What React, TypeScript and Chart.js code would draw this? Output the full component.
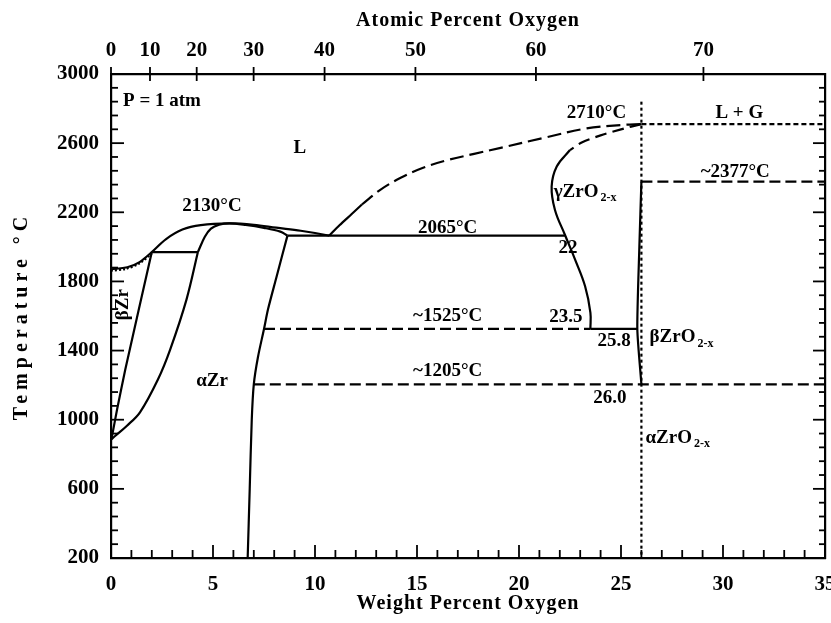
import React, { useEffect, useRef } from "react";
import { Chart, registerables } from "chart.js";

Chart.register(...registerables);

// ---- tick labels ----
const weightTicks = [0, 5, 10, 15, 20, 25, 30, 35];
const atomicTicks = [0, 10, 20, 30, 40, 50, 60, 70];
const tempTicks = [200, 600, 1000, 1400, 1800, 2200, 2600, 3000];

// ---- phase boundaries: [wt% O, °C] ----
const liquidusMetal = [[0, 1870], [0.8, 1882], [1.4, 1912], [2.0, 1970], [2.7, 2045], [3.5, 2100], [4.4, 2126], [5.8, 2136], [7.0, 2128], [8.1, 2111], [9.3, 2093], [10.0, 2080], [10.7, 2065]];
const betaSolidus = [[0, 1862], [0.7, 1872], [1.4, 1905], [2.0, 1962]];
const peritectic = [[2.0, 1970], [4.26, 1970]];
const betaTransus = [[2.0, 1970], [0.7, 1290], [0.3, 1060], [0.06, 912], [0, 885]];
const alphaTransus = [[4.26, 1970], [3.7, 1695], [2.9, 1406], [2.3, 1233], [1.42, 1043], [0.77, 964], [0.2, 906], [0, 885]];
const alphaSolidus = [[4.26, 1970], [4.6, 2058], [4.9, 2105], [5.3, 2128], [5.8, 2136], [6.6, 2127], [7.5, 2110], [8.3, 2088], [8.65, 2065]];
const alphaSolvus = [[8.65, 2065], [8.1, 1820], [7.7, 1640], [7.5, 1525], [7.2, 1360], [7.0, 1205], [6.9, 1000], [6.8, 600], [6.7, 200]];
const eutectic = [[8.65, 2065], [22.25, 2065]];
const oxideLiquidusSolid = [[10.7, 2065], [11.2, 2125], [11.8, 2190], [12.3, 2245]];
const oxideLiquidusDashed = [[12.3, 2245], [13.2, 2330], [14.2, 2400], [15.3, 2458], [16.5, 2502], [17.8, 2538], [19.1, 2573], [21.2, 2630], [23.3, 2685], [25.0, 2705], [26.0, 2710]];
const gammaSolidusDashed = [[26.0, 2710], [25.0, 2680], [24.0, 2645], [23.1, 2605], [22.5, 2560]];
const gammaBoundary = [[22.5, 2560], [21.85, 2465], [21.6, 2349], [21.76, 2215], [22.25, 2070], [22.75, 1926], [23.24, 1772], [23.5, 1620], [23.5, 1525]];
const eutectoidDashed = [[7.5, 1525], [23.5, 1525]];
const eutectoidSolid = [[23.5, 1525], [25.8, 1525]];
const oxideBoundary = [[26.0, 2377], [25.9, 2000], [25.8, 1525], [26.0, 1205]];
const monoclinicLine = [[7.0, 1205], [35, 1205]];
const tetragonalLine = [[26.0, 2377], [35, 2377]];
const meltLine = [[26.0, 2710], [35, 2710]];
const stoichLine = [[26.0, 2840], [26.0, 200]];

// ---- text annotations ----
const notes = [
  { t: "P = 1 atm", x: 0.59, y: 2844, align: "left" },
  { t: "L", x: 9.26, y: 2573, align: "center" },
  { t: "2710°C", x: 23.8, y: 2775, align: "center" },
  { t: "L + G", x: 30.8, y: 2775, align: "center" },
  { t: "~2377°C", x: 30.6, y: 2434, align: "center" },
  { t: "γZrO", sub: "2-x", x: 21.7, y: 2319, align: "left" },
  { t: "2130°C", x: 4.95, y: 2238, align: "center" },
  { t: "2065°C", x: 16.5, y: 2111, align: "center" },
  { t: "22", x: 22.4, y: 1995, align: "center" },
  { t: "~1525°C", x: 16.5, y: 1597, align: "center" },
  { t: "23.5", x: 22.3, y: 1591, align: "center" },
  { t: "25.8", x: 24.66, y: 1453, align: "center" },
  { t: "βZrO", sub: "2-x", x: 26.4, y: 1476, align: "left" },
  { t: "~1205°C", x: 16.5, y: 1279, align: "center" },
  { t: "26.0", x: 24.46, y: 1124, align: "center" },
  { t: "αZrO", sub: "2-x", x: 26.2, y: 893, align: "left" },
  { t: "αZr", x: 4.95, y: 1222, align: "center" },
  { t: "βZr", x: 0.6, y: 1666, align: "center", rot: true },
];

const FONT = "'Liberation Serif', 'Times New Roman', serif";

function atomicToWeight(at: number) {
  const a = at / 100;
  return (100 * a * 16) / (a * 16 + (1 - a) * 91.22);
}

function mk(data: number[][], dash: number[] = [], tension = 0) {
  return {
    data: data.map(([x, y]) => ({ x, y })),
    borderColor: "#000",
    borderWidth: 2.2,
    pointRadius: 0,
    showLine: true,
    fill: false,
    tension,
    borderDash: dash,
  };
}

const inTicks = {
  id: "inTicks",
  afterDraw(chart: any) {
    const { ctx, chartArea: a, scales } = chart;
    ctx.save();
    ctx.strokeStyle = "#000";
    ctx.lineWidth = 1.8;
    const seg = (x1: number, y1: number, x2: number, y2: number) => {
      ctx.beginPath();
      ctx.moveTo(x1, y1);
      ctx.lineTo(x2, y2);
      ctx.stroke();
    };
    for (let v = 0; v <= 35; v += 1) {
      const px = scales.x.getPixelForValue(v);
      seg(px, a.bottom, px, a.bottom - (v % 5 === 0 ? 13 : 8));
    }
    for (let v = 200; v <= 3000; v += 80) {
      const py = scales.y.getPixelForValue(v);
      const major = (v - 200) % 400 === 0;
      seg(a.left, py, a.left + (major ? 13 : 7), py);
      seg(a.right, py, a.right - (major ? 12 : 6), py);
    }
    atomicTicks.forEach((at) => {
      const px = scales.x.getPixelForValue(atomicToWeight(at));
      seg(px, a.top - 7, px, a.top + 7);
    });
    ctx.restore();
  },
};

const textPlugin = {
  id: "texts",
  afterDraw(chart: any) {
    const { ctx, chartArea: a, scales } = chart;
    ctx.save();
    ctx.fillStyle = "#000";
    ctx.textBaseline = "middle";
    notes.forEach((n: any) => {
      const px = scales.x.getPixelForValue(n.x);
      const py = scales.y.getPixelForValue(n.y);
      ctx.font = `bold 19px ${FONT}`;
      if (n.rot) {
        ctx.save();
        ctx.translate(px, py);
        ctx.rotate(-Math.PI / 2);
        ctx.textAlign = "center";
        ctx.fillText(n.t, 0, 0);
        ctx.restore();
        return;
      }
      ctx.textAlign = n.align;
      ctx.fillText(n.t, px, py);
      if (n.sub) {
        const w = ctx.measureText(n.t).width;
        ctx.font = `bold 12px ${FONT}`;
        ctx.textAlign = "left";
        ctx.fillText(n.sub, px + w + 2, py + 6);
      }
    });
    // axis titles
    ctx.font = `bold 20px ${FONT}`;
    (ctx as any).letterSpacing = "1px";
    ctx.textAlign = "center";
    const cx = (a.left + a.right) / 2;
    ctx.fillText("Atomic Percent Oxygen", cx, 21);
    ctx.fillText("Weight Percent Oxygen", cx, 604);
    ctx.save();
    ctx.translate(22, (a.top + a.bottom) / 2);
    ctx.rotate(-Math.PI / 2);
    (ctx as any).letterSpacing = "5px";
    ctx.fillText("Temperature °C", 0, 0);
    ctx.restore();
    ctx.restore();
  },
};

function noPad(s: any) {
  s.paddingLeft = 0;
  s.paddingRight = 0;
  s.paddingTop = 0;
  s.paddingBottom = 0;
}

export default function App() {
  const ref = useRef<HTMLCanvasElement | null>(null);
  useEffect(() => {
    if (!ref.current) return;
    const tickFont = { family: FONT, size: 21, weight: "bold" as const };
    const border = { display: true, color: "#000", width: 2.2 };
    const chart = new Chart(ref.current, {
      type: "scatter",
      data: {
        datasets: [
          mk(liquidusMetal, [], 0.35),
          mk(betaSolidus, [2, 2], 0.3),
          mk(peritectic),
          mk(betaTransus, [], 0.2),
          mk(alphaTransus, [], 0.35),
          mk(alphaSolidus, [], 0.35),
          mk(alphaSolvus, [], 0.3),
          mk(eutectic),
          mk(oxideLiquidusSolid, [], 0.3),
          mk(oxideLiquidusDashed, [14, 6], 0.35),
          mk(gammaSolidusDashed, [12, 6], 0.3),
          mk(gammaBoundary, [], 0.4),
          mk(eutectoidDashed, [11, 5]),
          mk(eutectoidSolid),
          mk(oxideBoundary, [], 0.2),
          mk(monoclinicLine, [11, 5]),
          mk(tetragonalLine, [11, 5]),
          mk(meltLine, [5, 3]),
          mk(stoichLine, [3, 3]),
        ] as any,
      },
      options: {
        animation: false,
        responsive: true,
        maintainAspectRatio: false,
        layout: { padding: { left: 0, right: 6, top: 0, bottom: 0 } },
        plugins: { legend: { display: false }, tooltip: { enabled: false }, title: { display: false } },
        scales: {
          x: {
            type: "linear",
            position: "bottom",
            min: 0,
            max: 35,
            afterBuildTicks: (s: any) => {
              s.ticks = weightTicks.map((v) => ({ value: v }));
            },
            afterFit: (s: any) => {
              s.height = 65;
              noPad(s);
            },
            ticks: { font: tickFont, color: "#000", padding: 14, autoSkip: false, maxRotation: 0, callback: (v: any) => String(v) },
            grid: { display: false, drawTicks: false },
            border,
          },
          x2: {
            type: "linear",
            position: "top",
            min: 0,
            max: 35,
            afterBuildTicks: (s: any) => {
              s.ticks = atomicTicks.map((at) => ({ value: atomicToWeight(at) }));
            },
            afterFit: (s: any) => {
              s.height = 74;
              noPad(s);
            },
            ticks: { font: tickFont, color: "#000", padding: 11, autoSkip: false, maxRotation: 0, callback: (_v: any, i: number) => String(atomicTicks[i]) },
            grid: { display: false, drawTicks: false },
            border,
          },
          y: {
            type: "linear",
            position: "left",
            min: 200,
            max: 3000,
            afterBuildTicks: (s: any) => {
              s.ticks = tempTicks.map((v) => ({ value: v }));
            },
            afterFit: (s: any) => {
              s.width = 111;
              noPad(s);
            },
            ticks: { font: tickFont, color: "#000", padding: 12, autoSkip: false, callback: (v: any) => String(v) },
            grid: { display: false, drawTicks: false },
            border,
          },
          y2: {
            type: "linear",
            position: "right",
            min: 200,
            max: 3000,
            afterFit: (s: any) => {
              s.width = 0;
              noPad(s);
            },
            ticks: { display: false },
            grid: { display: false, drawTicks: false },
            border,
          },
        },
      },
      plugins: [inTicks, textPlugin],
    });
    return () => chart.destroy();
  }, []);
  return (
    <div style={{ position: "absolute", left: 0, top: 0, width: 831, height: 623, background: "#fff" }}>
      <canvas ref={ref} />
    </div>
  );
}
